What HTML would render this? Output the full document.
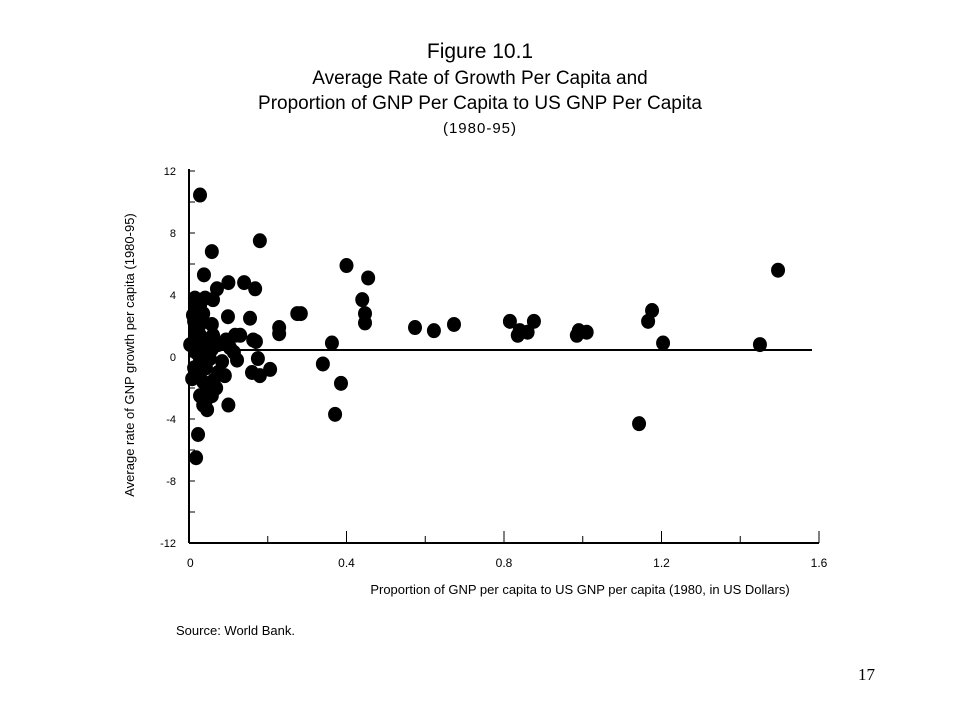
<!DOCTYPE html>
<html><head><meta charset="utf-8"><style>
body{margin:0;background:#fff;}
svg text{font-family:"Liberation Sans",sans-serif;fill:#000;}
</style></head><body>
<svg width="960" height="720" viewBox="0 0 960 720" id="c">
<text x="480" y="58" text-anchor="middle" font-size="21">Figure 10.1</text>
<text x="480" y="84" text-anchor="middle" font-size="19">Average Rate of Growth Per Capita and</text>
<text x="480" y="109" text-anchor="middle" font-size="19">Proportion of GNP Per Capita to US GNP Per Capita</text>
<text x="480" y="133" text-anchor="middle" font-size="15" letter-spacing="1">(1980-95)</text>
<text transform="translate(134,355) rotate(-90)" text-anchor="middle" font-size="13">Average rate of GNP growth per capita (1980-95)</text>
<text x="580" y="594" text-anchor="middle" font-size="13">Proportion of  GNP per capita to US GNP per capita (1980, in US Dollars)</text>
<text x="176" y="635" font-size="13">Source: World Bank.</text>
<text x="858" y="680" font-size="17" style="font-family:'Liberation Serif',serif">17</text>
<g id="axes"></g>
<g id="marks"></g>
</svg>
<script>
const xVals=[.028,.058,.18,.038,.071,.10,.14,.168,.40,.455,.44,.447,.447,.284,.155,.099,.061,.018,.041,.229,.229,.574,.622,.673,.815,.835,.84,.86,.876,.99,.985,1.01,1.166,1.176,1.204,1.45,1.496,1.143,.34,.363,.386,.371,.206,.175,.18,.16,.163,.17,.13,.10,.023,.018,
.015,.028,.036,.010,.013,.018,.028,.041,.003,.018,.028,.013,.023,.008,.036,.043,.053,.058,.048,.028,.036,.046,.043,.063,.074,.091,.084,.104,.094,.117,.074,.061,.058,.028,.015,.028,.069,.058,.114,.122,.275];
const yVals=[10.45,6.8,7.5,5.3,4.4,4.8,4.8,4.4,5.9,5.1,3.7,2.8,2.2,2.8,2.5,2.6,3.7,3.4,3.8,1.9,1.5,1.9,1.7,2.1,2.3,1.4,1.7,1.6,2.3,1.7,1.4,1.6,2.3,3.0,0.9,0.8,5.6,-4.3,-0.45,0.9,-1.7,-3.7,-0.8,-0.1,-1.2,-1.0,1.1,1.0,1.4,-3.1,-5.0,-6.5,
3.8,3.3,2.8,2.7,2.3,1.7,1.4,1.0,0.8,0.3,-0.2,-0.7,-1.2,-1.4,-1.6,-0.7,-0.1,0.5,-1.8,-2.5,-3.1,-3.4,-2.8,-1.5,-1.0,-1.2,-0.3,0.6,1.1,1.4,0.8,1.4,2.1,2.1,1.1,0.5,-2.0,-2.5,0.3,-0.2,2.8];
const xTicks=[0,0.4,0.8,1.2,1.6];
const yTicks=[12,8,4,0,-4,-8,-12];
const refLine=0.45;
const X0=189,X1=819,Y0=543,Y1=171;
const sx=v=>X0+(v-0)/(1.6)*(X1-X0);
const sy=v=>Y0-(v+12)/24*(Y0-Y1);
const NS="http://www.w3.org/2000/svg";
const ax=document.getElementById('axes'),mk=document.getElementById('marks');
function mkEl(t,a,p){const e=document.createElementNS(NS,t);for(const k in a)e.setAttribute(k,a[k]);p.appendChild(e);return e;}
let l=mkEl('line',{x1:X0,y1:Y1-2,x2:X0,y2:Y0,stroke:'#000','stroke-width':2},ax);


l=mkEl('line',{x1:X0,y1:Y0,x2:X1,y2:Y0,stroke:'#000','stroke-width':2},ax);


for(let i=0;i<yTicks.length;i++){const v=yTicks[i];
 mkEl('line',{x1:X0,y1:sy(v),x2:X0+6,y2:sy(v),stroke:'#000','stroke-width':1},ax);
 if(i<yTicks.length-1)mkEl('line',{x1:X0,y1:sy(v-2),x2:X0+6,y2:sy(v-2),stroke:'#000','stroke-width':1},ax);
 const t=mkEl('text',{x:176,y:sy(v)+4,'text-anchor':'end','font-size':11},ax);t.textContent=v;
 
 }
for(let i=0;i<xTicks.length;i++){const v=xTicks[i];
 mkEl('line',{x1:sx(v),y1:Y0,x2:sx(v),y2:Y0-12,stroke:'#000','stroke-width':1},ax);
 if(i<xTicks.length-1)mkEl('line',{x1:sx(v+0.2),y1:Y0,x2:sx(v+0.2),y2:Y0-7,stroke:'#000','stroke-width':1},ax);
 const t=mkEl('text',{x:sx(v),y:567,'text-anchor':i==0?'start':'middle','font-size':12},ax);t.textContent=v;
 if(i==0)t.setAttribute('x',sx(v)-2);
 
 }
l=mkEl('line',{x1:X0,y1:sy(refLine),x2:812,y2:sy(refLine),stroke:'#000','stroke-width':2},ax);


for(let i=0;i<xVals.length;i++){
 const e=mkEl('ellipse',{cx:sx(xVals[i]),cy:sy(yVals[i]),rx:7,ry:7.5,fill:'#000'},mk);
 
 }
</script>
</body></html>
